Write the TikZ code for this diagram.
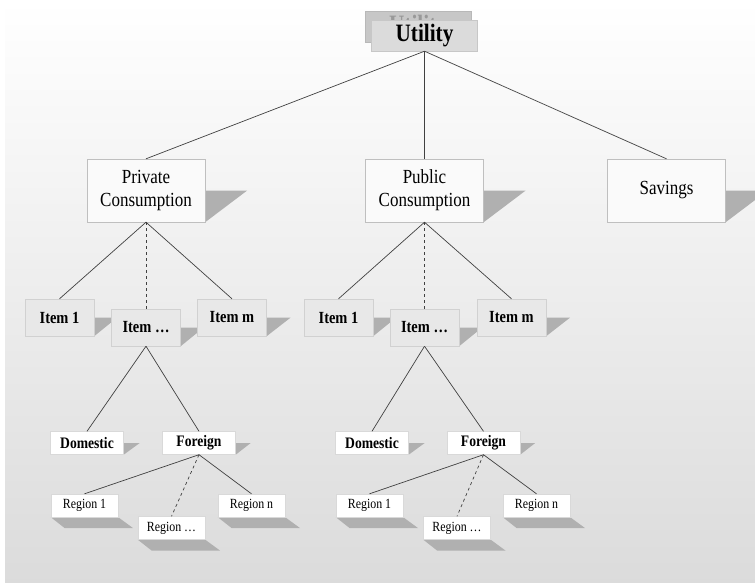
\documentclass[tikz,border=0pt]{standalone}
\usepackage{fontspec}
\setmainfont{Liberation Serif}[FakeStretch=0.85]
\usetikzlibrary{backgrounds}

\definecolor{edgegray}{HTML}{404040}
\definecolor{shadegray}{HTML}{B0B0B0}

\begin{document}
\begin{tikzpicture}[x=1pt,y=-1pt,
  link/.style={edgegray,line width=0.7pt},
  utilbox/.style={draw=black!22,fill=black!14,minimum width=106pt,minimum height=31pt,
    inner sep=0pt,font=\fontsize{25}{28}\selectfont\bfseries},
  topbox/.style={draw=black!25,fill=black!2,minimum width=118pt,minimum height=63pt,
    inner sep=0pt,align=center,font=\fontsize{20}{23}\selectfont},
  itembox/.style={draw=black!18,fill=black!9,minimum width=69pt,minimum height=37pt,
    inner sep=0pt,font=\fontsize{17}{20}\selectfont\bfseries},
  originbox/.style={draw=black!15,fill=white,minimum width=73pt,minimum height=23pt,
    inner sep=0pt,font=\fontsize{16}{19}\selectfont\bfseries},
  regionbox/.style={draw=black!15,fill=white,minimum width=67pt,minimum height=23pt,
    inner sep=0pt,font=\fontsize{14}{17}\selectfont}]
\useasboundingbox (0,0) rectangle (755,582);

% root
\node[utilbox,fill=black!22,draw=black!28,text=black!40] (utilback) at (418,26.5) {Utility};
\node[utilbox] (util) at (424.5,35.5) {Utility};

% first level
\node[topbox] (priv) at (146,190.5) {Private\\Consumption};
\node[topbox] (pub) at (424.5,190.5) {Public\\Consumption};
\node[topbox] (sav) at (666.5,190.5) {Savings};

% items
\node[itembox] (privitemA) at (59.5,317.5) {Item 1};
\node[itembox] (privitemB) at (146,327.5) {Item \ldots};
\node[itembox] (privitemC) at (232,317.5) {Item m};
\node[itembox] (pubitemA) at (338.5,317.5) {Item 1};
\node[itembox] (pubitemB) at (424.5,327.5) {Item \ldots};
\node[itembox] (pubitemC) at (511.5,317.5) {Item m};

% origin
\node[originbox] (privdom) at (87,443) {Domestic};
\node[originbox] (privfor) at (199,443) {Foreign};
\node[originbox] (pubdom) at (372,443) {Domestic};
\node[originbox] (pubfor) at (483.5,443) {Foreign};

% regions
\node[regionbox] (privregA) at (84.5,505.5) {Region 1};
\node[regionbox] (privregB) at (171.5,528) {Region \ldots};
\node[regionbox] (privregC) at (251.5,505.5) {Region n};
\node[regionbox] (pubregA) at (369.5,505.5) {Region 1};
\node[regionbox] (pubregB) at (457,528) {Region \ldots};
\node[regionbox] (pubregC) at (536.5,505.5) {Region n};

% connectors
\draw[link] (util.south) -- (priv.north);
\draw[link] (util.south) -- (pub.north);
\draw[link] (util.south) -- (sav.north);
\foreach \s in {priv,pub}{
  \draw[link] (\s.south) -- (\s itemA.north);
  \draw[link,dashed] (\s.south) -- (\s itemB.north);
  \draw[link] (\s.south) -- (\s itemC.north);
  \draw[link] (\s itemB.south) -- (\s dom.north);
  \draw[link] (\s itemB.south) -- (\s for.north);
  \draw[link] (\s for.south) -- (\s regA.north);
  \draw[link,dashed] (\s for.south) -- (\s regB.north);
  \draw[link] (\s for.south) -- (\s regC.north);
}

\begin{pgfonlayer}{background}
\shade[top color=white,bottom color=black!14] (5,0) rectangle (755,582);
% side shadows
\foreach \n/\d in {priv/42,pub/42,sav/42,privitemA/23,privitemB/23,privitemC/24,
    pubitemA/23,pubitemB/23,pubitemC/24,privdom/16,privfor/15,pubdom/16,pubfor/15}
  \fill[shadegray] (\n.east) -- ++(\d,0) -- (\n.south east) -- cycle;
% ground shadows
\foreach \n in {privregA,privregB,privregC,pubregA,pubregB,pubregC}
  \fill[shadegray] (\n.south west) -- (\n.south east)
    -- ([shift={(15,11)}]\n.south east) -- ([shift={(14,11)}]\n.south west) -- cycle;
\end{pgfonlayer}
\end{tikzpicture}
\end{document}
